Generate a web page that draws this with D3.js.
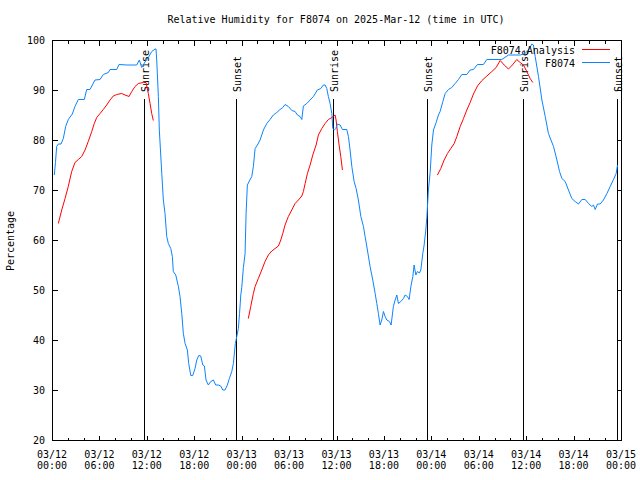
<!DOCTYPE html>
<html>
<head>
<meta charset="utf-8">
<script src="https://cdn.jsdelivr.net/npm/d3@7"></script>
<style>
  html, body { margin: 0; padding: 0; background: #fff; }
  svg { display: block; }
  text { font-family: "DejaVu Sans Mono", monospace; font-size: 10px; fill: #000; }
</style>
</head>
<body>
<svg id="chart" width="640" height="480"></svg>
<script>
// ---------- DATA ----------
const titleText = "Relative Humidity for F8074 on 2025-Mar-12 (time in UTC)";
const yLabel = "Percentage";
const seriesNames = ["F8074 Analysis", "F8074"];

// Hours since 2025-03-12 00:00 UTC
const xTickHours = [0, 6, 12, 18, 24, 30, 36, 42, 48, 54, 60, 66, 72];
const xTickDays  = ["03/12","03/12","03/12","03/12","03/13","03/13","03/13","03/13","03/14","03/14","03/14","03/14","03/15"];
const xTickTimes = ["00:00","06:00","12:00","18:00","00:00","06:00","12:00","18:00","00:00","06:00","12:00","18:00","00:00"];
const yTicks = [20, 30, 40, 50, 60, 70, 80, 90, 100];

const eventHours  = [11.68, 23.33, 35.61, 47.41, 59.66, 71.52];
const eventLabels = ["Sunrise", "Sunset", "Sunrise", "Sunset", "Sunrise", "Sunset"];

// Observed relative humidity (F8074)
const obsHours = [0.29,0.44,0.59,0.80,1.14,1.43,1.73,2.06,2.57,2.91,3.33,4.09,4.39,4.81,5.44,6.08,6.49,7.13,7.34,8.19,8.48,9.46,10.72,11.05,11.35,11.77,12.19,12.62,13.04,13.16,13.25,13.46,13.58,13.76,13.89,14.09,14.30,14.52,14.72,15.03,15.23,15.35,15.66,15.99,16.20,16.42,16.62,16.84,17.13,17.30,17.56,17.81,18.10,18.32,18.57,18.82,19.08,19.28,19.49,19.78,20.09,20.42,20.72,21.05,21.35,21.61,21.90,22.19,22.44,22.75,22.95,23.20,23.38,23.58,23.73,23.89,24.01,24.22,24.43,24.56,24.72,24.97,25.28,25.48,25.70,25.99,26.33,26.75,27.18,27.59,28.01,28.44,28.86,29.20,29.49,29.91,30.34,30.76,31.05,31.39,31.61,31.81,32.24,32.66,33.08,33.58,34.01,34.34,34.56,34.77,34.97,35.19,35.41,35.53,35.73,35.91,36.11,36.46,36.75,37.30,37.51,37.72,37.94,38.23,38.48,38.77,39.08,39.41,39.62,39.91,40.25,40.59,40.89,41.10,41.30,41.52,41.73,41.94,42.15,42.37,42.70,42.91,43.20,43.42,43.63,43.84,44.14,44.47,44.68,44.97,45.19,45.41,45.66,45.82,46.04,46.24,46.49,46.67,46.92,47.09,47.30,47.43,47.63,47.85,48.06,48.27,48.61,48.90,49.11,49.46,49.75,50.16,50.59,51.01,51.43,51.86,52.49,52.91,53.33,53.84,54.59,55.03,56.92,57.76,59.24,59.87,60.29,60.72,60.92,61.14,61.56,61.99,62.41,62.82,63.46,63.89,64.22,64.52,64.94,65.35,65.78,66.20,66.62,67.05,67.47,67.89,68.32,68.52,68.73,69.03,69.37,69.78,70.22,70.63,71.05,71.39,71.56];
const obsRH = [73,75.5,78.7,79.2,79.2,80.3,82.7,84.1,85.2,86.7,88.1,88.1,90.1,90.1,92,92.1,93.1,93.5,94.1,94.1,95.1,95,95,96,94.5,95.6,96.5,97.7,98.2,98.2,96,88.7,82,77,73.3,68,65.3,60.7,59.3,58.3,56.7,53.7,53,50.7,48.7,45.3,41.3,39.3,38,35.3,32.9,32.9,34.3,36,36.9,36.8,35,34.8,32,31,31.7,32,31,31,30.8,30,30,31,32.3,33.7,35.3,39.3,40.7,42.3,45.3,49,50.5,54.5,57.3,65.3,71,71.8,72.7,74.7,78.3,79,80,82,83.3,84.1,85,85.5,86.1,86.5,87.1,86.7,85.9,85.7,85,84.7,84.1,86.8,87.3,88,88.7,90,90.3,91,91,90.3,88.7,87.3,85.3,82.3,82,82.3,83.2,83,82.1,82.1,80.7,78,74.7,71.7,70.3,68,64.7,62.7,60.7,58,54.7,52,49.3,47.3,45.3,43,44,45.7,44.7,44,43.7,43,46.7,48,49,47.3,47.7,48.3,49,48.7,48.1,50.7,52.7,55,53,53.7,53.4,54,57.3,59,62,64.5,70,73.5,79,82,83.5,85,85.7,87.7,89.3,90.1,90.5,91.3,92.1,93.1,93.1,94,94.1,95.1,95.1,96.1,96.1,97,97,97.3,98,99.2,99,96.7,92.7,88,84.7,81.3,78.7,76,73.7,72.3,71.7,70,68.3,67.7,67.2,68.1,68.1,67.3,66.7,67,66.1,67.2,67.2,68,69.3,70.7,72.1,73.3,75];

// Analysis relative humidity (F8074 Analysis), three runs separated by null
const anaHours = [0.80,1.23,1.65,2.06,2.49,2.91,3.33,3.76,4.18,4.59,5.03,5.35,5.66,6.08,6.49,6.92,7.34,7.76,8.19,8.82,9.24,9.75,10.09,10.51,10.92,11.56,11.90,12.19,12.41,12.62,12.82,
  null,
  24.84,25.15,25.48,25.70,26.11,26.54,26.96,27.38,27.81,28.23,28.65,28.95,29.20,29.49,29.91,30.34,30.76,31.18,31.61,31.81,32.03,32.32,32.66,33.00,33.42,33.71,34.14,34.56,34.97,35.41,35.82,35.95,36.11,36.33,36.54,36.75,
  null,
  48.77,49.20,49.62,50.04,50.47,50.89,51.23,51.65,52.07,52.49,52.91,53.33,53.84,54.40,55.03,55.66,56.20,56.71,57.22,57.76,58.26,58.81,59.24,59.66,60.08,60.50,60.84];
const anaRH = [63.3,66,68.3,70.7,73.7,75.5,76.1,76.7,78,79.7,81.7,83.3,84.5,85.3,86.1,87,88,88.8,89.1,89.3,89,88.7,89.7,90.7,91.3,91.5,91.5,89.3,87.3,85.3,83.9,
  null,
  44.3,46.7,49.3,50.7,52.3,54,55.7,57,57.8,58.3,58.8,60,61.3,63,64.7,66,67.3,68,68.8,69.7,71.3,73.3,75,77,79,81,82.3,83.3,84.1,84.5,85,84,81.7,79,76.7,74,
  null,
  73,74.3,76,77.3,78.3,79.3,80.7,82.7,84.3,86,87.5,89.2,90.8,91.9,92.8,93.7,94.5,95.9,95,94.2,95,96.1,95.5,95,93.7,92.3,91.5];

// ---------- CHART ----------
const svg = d3.select("#chart");
const L = 52, R = 621, T = 40, B = 440;

const x = d3.scaleLinear().domain([0, 72]).range([L, R]);
const y = d3.scaleLinear().domain([20, 100]).range([B, T]);

const minorHours = d3.range(0, 73, 2).filter(h => h % 6 !== 0);

// Title
svg.append("text").attr("x", 336).attr("y", 23).attr("text-anchor", "middle").text(titleText);

// Y label
svg.append("text").attr("transform", "translate(14,241) rotate(-90)")
  .attr("text-anchor", "middle").text(yLabel);

function styleAxis(g) {
  g.select(".domain").remove();
  g.selectAll("line").attr("stroke", "#000").attr("shape-rendering", "crispEdges");
  g.selectAll("text").remove();
}

// Y axes (ticks inward)
svg.append("g").attr("transform", `translate(${L + 0.5},0)`)
  .call(d3.axisLeft(y).tickValues(yTicks).tickSize(-5)).call(styleAxis);
svg.append("g").attr("transform", `translate(${R + 0.5},0)`)
  .call(d3.axisRight(y).tickValues(yTicks).tickSize(-5)).call(styleAxis);

// X axes major/minor (bottom and top mirror)
svg.append("g").attr("transform", `translate(0,${B + 0.5})`)
  .call(d3.axisBottom(x).tickValues(xTickHours).tickSize(-5)).call(styleAxis);
svg.append("g").attr("transform", `translate(0,${B + 0.5})`)
  .call(d3.axisBottom(x).tickValues(minorHours).tickSize(-3)).call(styleAxis);
svg.append("g").attr("transform", `translate(0,${T + 0.5})`)
  .call(d3.axisTop(x).tickValues(xTickHours).tickSize(-5)).call(styleAxis);
svg.append("g").attr("transform", `translate(0,${T + 0.5})`)
  .call(d3.axisTop(x).tickValues(minorHours).tickSize(-3)).call(styleAxis);

// Tick labels
svg.append("g").selectAll("text").data(yTicks).join("text")
  .attr("x", L - 7).attr("y", d => y(d) + 4).attr("text-anchor", "end").text(d => d);

const xl = svg.append("g").selectAll("text").data(xTickHours).join("text")
  .attr("text-anchor", "middle");
xl.append("tspan").attr("x", d => x(d)).attr("y", 458).text((d, i) => xTickDays[i]);
xl.append("tspan").attr("x", d => x(d)).attr("y", 469).text((d, i) => xTickTimes[i]);

// Sunrise / sunset markers
const ev = svg.append("g");
ev.selectAll("line").data(eventHours).join("line")
  .attr("x1", d => Math.round(x(d)) + 0.5).attr("x2", d => Math.round(x(d)) + 0.5)
  .attr("y1", 99).attr("y2", B)
  .attr("stroke", "#000").attr("shape-rendering", "crispEdges");
ev.selectAll("text").data(eventHours).join("text")
  .attr("transform", d => `translate(${Math.round(x(d)) + 4.5},92) rotate(-90)`)
  .attr("text-anchor", "start")
  .text((d, i) => eventLabels[i]);

// Lines
const obsData = obsHours.map((h, i) => [h, obsRH[i]]);
const anaData = anaHours.map((h, i) => [h, anaRH[i]]);
const line = d3.line().defined(d => d[0] !== null && d[1] !== null)
  .x(d => x(d[0])).y(d => y(d[1]));

svg.append("path").datum(anaData).attr("d", line)
  .attr("fill", "none").attr("stroke", "#ff0000").attr("stroke-width", 1);
svg.append("path").datum(obsData).attr("d", line)
  .attr("fill", "none").attr("stroke", "#0a84ff").attr("stroke-width", 1);

// Legend
const legColors = ["#ff0000", "#0a84ff"];
const leg = svg.append("g");
seriesNames.forEach((name, i) => {
  const ly = 49.5 + i * 13;
  leg.append("text").attr("x", 575).attr("y", ly + 4).attr("text-anchor", "end").text(name);
  leg.append("line").attr("x1", 582).attr("x2", 610).attr("y1", ly).attr("y2", ly)
    .attr("stroke", legColors[i]).attr("shape-rendering", "crispEdges");
});

// Border
svg.append("rect").attr("x", L + 0.5).attr("y", T + 0.5)
  .attr("width", R - L).attr("height", B - T)
  .attr("fill", "none").attr("stroke", "#000").attr("shape-rendering", "crispEdges");
</script>
</body>
</html>
